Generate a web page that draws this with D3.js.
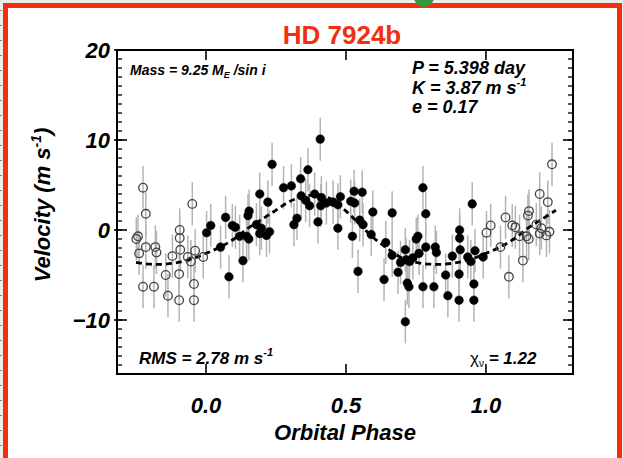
<!DOCTYPE html>
<html lang="en">
<head>
<meta charset="utf-8">
<title>HD 7924b</title>
<script src="https://cdn.jsdelivr.net/npm/d3@7"></script>
<style>
  body { margin: 0; background: #ececec; }
  svg { display: block; }
  text { font-family: "Liberation Sans", Arial, sans-serif; }
</style>
</head>
<body>
<script>
// phase-folded velocities (filled points, phase 0..1)
var phase = [0.002,0.017,0.052,0.070,0.082,0.094,0.105,0.120,0.132,0.145,0.150,0.153,0.154,0.180,0.192,0.192,0.198,0.216,0.221,0.227,
             0.236,0.277,0.305,0.314,0.325,0.338,0.340,0.356,0.364,0.370,0.388,0.400,0.408,0.410,0.412,0.430,0.454,0.471,0.471,0.480,
             0.517,0.523,0.529,0.531,0.543,0.549,0.558,0.561,0.590,0.596,0.636,0.642,0.665,0.665,0.686,0.695,0.712,0.712,0.715,0.719,
             0.725,0.727,0.739,0.751,0.757,0.761,0.775,0.775,0.785,0.785,0.814,0.819,0.823,0.856,0.864,0.880,0.904,0.904,0.906,0.906,
             0.908,0.935,0.946,0.951,0.957,0.957,0.961,0.990];
var vel = [-0.3,0.5,-1.9,1.4,-5.2,0.5,0.3,-0.7,-3.4,-0.7,1.6,-1.0,2.1,0.6,4.0,-0.4,0.2,-0.6,3.1,-0.2,
           7.3,4.7,4.9,0.6,1.3,5.7,3.8,3.3,6.7,2.7,4.0,0.9,10.1,2.7,3.6,3.0,3.1,2.8,0.2,3.7,
           3.2,-0.7,4.3,3.0,-4.6,1.1,4.2,0.6,-0.5,2.0,-5.5,-1.4,1.9,-2.8,-4.7,-3.6,-2.2,-10.2,-3.3,-5.9,
           -6.3,-3.5,-3.1,-1.0,-0.7,-2.6,4.7,-6.3,1.8,-1.9,-6.3,-1.9,-2.5,-5.0,-7.3,-2.9,-4.9,-7.8,0.0,-0.9,
           -2.2,-3.0,-3.5,2.9,-6.0,-7.8,-2.3,-3.0];
var velErr = 2.4;

// keplerian fit (dashed)
var modelPhase = [0.00,0.05,0.10,0.15,0.20,0.25,0.30,0.35,0.40,0.45,0.50,0.55,0.60,0.65,0.70,0.75,0.80,0.85,0.90,0.95,1.00];
var modelVel   = [-2.6,-1.9,-1.0,0.2,1.2,2.2,3.2,3.7,3.9,3.4,2.1,0.6,-0.9,-2.1,-3.1,-3.6,-3.8,-3.8,-3.6,-3.2,-2.6];

var xTicks = [0, 0.5, 1.0];
var xTickLabels = ["0.0", "0.5", "1.0"];
var yTicks = [-10, 0, 10, 20];

var W = 623, H = 458;
var svg = d3.select("body").append("svg").attr("width", W).attr("height", H);

// slide frame
svg.append("rect").attr("x", 5.5).attr("y", 5.5).attr("width", 614).attr("height", 456)
   .attr("fill", "#fff").attr("stroke", "#f52d0c").attr("stroke-width", 5);
svg.append("circle").attr("cx", 424).attr("cy", -3).attr("r", 10).attr("fill", "#2f9a3c");
svg.append("line").attr("x1", 1).attr("x2", 1).attr("y1", 10).attr("y2", 458)
   .attr("stroke", "#666").attr("stroke-width", 1.5).attr("stroke-dasharray", "1,14");

svg.append("text").attr("x", 342).attr("y", 44).attr("text-anchor", "middle")
   .attr("font-family", "Lato, 'Liberation Sans', sans-serif").attr("font-weight", "bold")
   .attr("font-size", "26px").attr("fill", "#f2300f").text("HD 7924b");

var plotL = 117, plotR = 573, plotT = 50, plotB = 374;
var x = d3.scaleLinear().domain([-0.318, 1.311]).range([plotL, plotR]);
var y = d3.scaleLinear().domain([-16, 20]).range([plotB, plotT]);

var g = svg.append("g");

// ticks: all inward, minor every 1 m/s
var yMinor = d3.range(-16, 21, 1);
g.selectAll(".ymin").data(yMinor).enter().append("line")
  .attr("x1", plotL).attr("x2", plotL + 5).attr("y1", d => y(d)).attr("y2", d => y(d))
  .attr("stroke", "#000").attr("stroke-width", 1.3);
g.selectAll(".ymin2").data(yMinor).enter().append("line")
  .attr("x1", plotR).attr("x2", plotR - 5).attr("y1", d => y(d)).attr("y2", d => y(d))
  .attr("stroke", "#000").attr("stroke-width", 1.3);
g.selectAll(".ymaj").data(yTicks).enter().append("line")
  .attr("x1", plotL - 3).attr("x2", plotL + 10).attr("y1", d => y(d)).attr("y2", d => y(d))
  .attr("stroke", "#000").attr("stroke-width", 1.6);
g.selectAll(".ymaj2").data(yTicks).enter().append("line")
  .attr("x1", plotR).attr("x2", plotR - 10).attr("y1", d => y(d)).attr("y2", d => y(d))
  .attr("stroke", "#000").attr("stroke-width", 1.6);
g.selectAll(".xmaj").data(xTicks).enter().append("line")
  .attr("x1", d => x(d)).attr("x2", d => x(d)).attr("y1", plotB).attr("y2", plotB - 10)
  .attr("stroke", "#000").attr("stroke-width", 1.6);
g.selectAll(".xmaj2").data(xTicks).enter().append("line")
  .attr("x1", d => x(d)).attr("x2", d => x(d)).attr("y1", plotT).attr("y2", plotT + 10)
  .attr("stroke", "#000").attr("stroke-width", 1.6);

g.append("rect").attr("x", plotL).attr("y", plotT).attr("width", plotR - plotL).attr("height", plotB - plotT)
  .attr("fill", "none").attr("stroke", "#000").attr("stroke-width", 2);

// tick labels
g.selectAll(".ylab").data(yTicks).enter().append("text")
  .attr("x", plotL - 7).attr("y", d => y(d) + 8).attr("text-anchor", "end")
  .attr("font-size", "22px").attr("font-weight", "bold").attr("font-style", "italic")
  .text(d => d < 0 ? "\u2212" + Math.abs(d) : d);
g.selectAll(".xlab").data(xTicks).enter().append("text")
  .attr("x", d => x(d)).attr("y", 413).attr("text-anchor", "middle")
  .attr("font-size", "22px").attr("font-weight", "bold").attr("font-style", "italic")
  .text((d, i) => xTickLabels[i]);

g.append("text").attr("x", 345).attr("y", 440).attr("text-anchor", "middle")
  .attr("font-size", "22px").attr("font-weight", "bold").attr("font-style", "italic")
  .text("Orbital Phase");

var yl = g.append("text").attr("transform", "translate(50,205) rotate(-90)").attr("text-anchor", "middle")
  .attr("font-size", "22px").attr("font-weight", "bold").attr("font-style", "italic");
yl.append("tspan").text("Velocity  (m s");
yl.append("tspan").attr("font-size", "14px").attr("dy", -9).text("-1");
yl.append("tspan").attr("dy", 9).text(")");

// data: filled points plus wrapped copies (open) outside 0..1
var pts = phase.map((p, i) => ({p: p, v: vel[i], open: false}));
phase.forEach(function(p, i) {
  if (p >= 0.75) pts.push({p: p - 1, v: vel[i], open: true});
  if (p <= 0.25) pts.push({p: p + 1, v: vel[i], open: true});
});

g.selectAll(".err").data(pts).enter().append("line")
  .attr("x1", d => x(d.p)).attr("x2", d => x(d.p))
  .attr("y1", d => y(d.v - velErr)).attr("y2", d => y(d.v + velErr))
  .attr("stroke", "#b4b4b4").attr("stroke-width", 1.5);

// model curve across -0.25..1.25
var model = [];
[-1, 0, 1].forEach(function(k) {
  modelPhase.forEach(function(p, i) {
    var q = p + k;
    if (q >= -0.25 && q <= 1.25) model.push({p: q, v: modelVel[i]});
  });
});
model.sort((a, b) => a.p - b.p);
model = model.filter((m, i) => i === 0 || Math.abs(m.p - model[i - 1].p) > 1e-9);

var line = d3.line().x(d => x(d.p)).y(d => y(d.v)).curve(d3.curveCatmullRom);
g.append("path").datum(model).attr("d", line).attr("fill", "none")
  .attr("stroke", "#000").attr("stroke-width", 2.8).attr("stroke-dasharray", "6,4");

g.selectAll(".pt").data(pts).enter().append("circle")
  .attr("cx", d => x(d.p)).attr("cy", d => y(d.v)).attr("r", 4.3)
  .attr("fill", d => d.open ? "none" : "#000")
  .attr("stroke", d => d.open ? "#444" : "#000").attr("stroke-width", d => d.open ? 1.3 : 0.5);

// annotations
function note(xp, yp, size) {
  return g.append("text").attr("x", xp).attr("y", yp).attr("font-size", size)
    .attr("font-weight", "bold").attr("font-style", "italic");
}
var m = note(130, 75, "14px");
m.append("tspan").text("Mass = 9.25 M");
m.append("tspan").attr("font-size", "9px").attr("dy", 3).text("E");
m.append("tspan").attr("dy", -3).text(" /sin i");

note(412, 74, "18px").text("P = 5.398 day");
var k = note(412, 94, "18px");
k.append("tspan").text("K = 3.87 m s");
k.append("tspan").attr("font-size", "11px").attr("dy", -8).text("-1");
note(412, 113, "18px").text("e = 0.17");

var r = note(139, 364, "17px");
r.append("tspan").text("RMS = 2.78 m s");
r.append("tspan").attr("font-size", "11px").attr("dy", -8).text("-1");

var c = note(470, 364, "17px");
c.append("tspan").attr("font-style", "normal").attr("font-weight", "normal").text("\u03c7");
c.append("tspan").attr("font-size", "10px").attr("font-style", "normal").attr("font-weight", "normal").attr("dy", 3).text("\u03bd");
c.append("tspan").attr("dy", -3).text(" = 1.22");
</script>
</body>
</html>
